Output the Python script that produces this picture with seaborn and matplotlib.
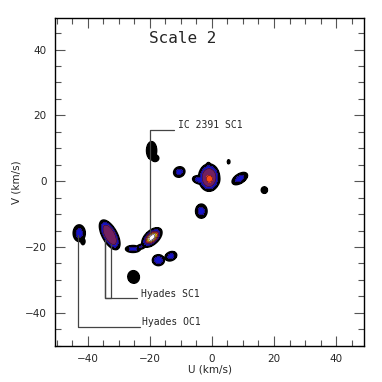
import numpy as np
import matplotlib
matplotlib.use("Agg")
import matplotlib.pyplot as plt
import seaborn as sns

# velocity-space structures found at wavelet scale 2 (U, V in km/s)
blob_u = [-42.7, -41.5, -32.9, -25.4, -22.8, -19.3, -17.2, -13.2, -25.2, -19.4, -18.3,
          -10.5, -0.9, -0.8, -3.9, -1.1, 5.4, 9.0, 16.9, -3.4]
blob_v = [-15.8, -18.3, -16.3, -20.6, -19.9, -17.1, -24.0, -22.8, -29.1, 9.3, 7.0,
          2.8, 1.1, 0.7, 0.4, 3.6, 5.9, 0.8, -2.7, -9.1]
blob_su = [1.6, 0.7, 3.9, 2.0, 1.3, 1.9, 1.53, 1.6, 1.75, 1.5, 1.2,
           1.52, 2.6, 1.9, 1.9, 0.8, 0.5, 2.28, 1.1, 1.52]
blob_sv = [2.1, 1.1, 1.8, 0.85, 0.6, 1.05, 1.3, 1.1, 1.85, 2.55, 1.0,
           1.27, 3.2, 1.9, 1.0, 1.7, 0.75, 1.18, 1.1, 1.77]
blob_angle = [0, 0, -59, 0, 15, 40, 0, 20, 30, 0, 0,
              20, 0, 0, -10, 0, 0, 30, 0, 0]
blob_peak = [2.3, 1.4, 3.9, 2.3, 2.1, 7.2, 2.6, 2.3, 1.7, 1.8, 1.6,
             2.3, 3.9, 4.6, 2.4, 2.4, 1.3, 2.3, 1.4, 2.3]
blob_sharp = [1.5, 1.5, 2, 1.5, 1.5, 1, 1.5, 1.5, 1.5, 1.5, 1.5,
              1.5, 2, 1, 1.5, 1.5, 1.5, 1.5, 1.5, 1.5]

levels = [1, 2, 3, 4, 5, 6, 100]
level_colors = ["black", "#1414c8", "#72205f", "#ff4a10", "#ffe600", "white"]

# group labels and their leader lines
label_text = ["IC 2391 SC1", "Hyades SC1", "Hyades OC1"]
label_u = [-10.9, -22.9, -22.6]
label_v = [17.1, -34.2, -42.9]
leader_u = [[-12.3, -19.8, -19.8], [-24.0, -34.5, -34.5, -34.5, -32.6, -32.6],
            [-23.2, -43.1, -43.1]]
leader_v = [[15.7, 15.7, -15.8], [-35.6, -35.6, -18.0, -35.6, -35.6, -19.0],
            [-44.2, -44.2, -16.5]]

sns.set_theme(style="ticks")
plt.rcParams["font.family"] = ["DejaVu Sans"]

fig = plt.figure(figsize=(3.82, 3.82), dpi=100)
ax = fig.add_axes([0.144, 0.095, 0.809, 0.857])

gu, gv = np.meshgrid(np.arange(-50, 50, 0.35), np.arange(-50, 50, 0.35))
field = np.zeros_like(gu)
for u0, v0, su, sv, ang, pk, p in zip(blob_u, blob_v, blob_su, blob_sv,
                                      blob_angle, blob_peak, blob_sharp):
    t = np.deg2rad(ang)
    du, dv = gu - u0, gv - v0
    a = (du * np.cos(t) + dv * np.sin(t)) / su
    b = (-du * np.sin(t) + dv * np.cos(t)) / sv
    field = np.maximum(field, pk * np.exp(-((a**2 + b**2) ** p) / 2))

ax.contourf(gu, gv, field, levels=levels, colors=level_colors)
ax.contour(gu, gv, field, levels=[1], colors="black", linewidths=1.3)
ax.contour(gu, gv, field, levels=levels[1:6], colors="#2a0a3a", linewidths=0.4)

for lu, lv in zip(leader_u, leader_v):
    ax.plot(lu, lv, color="#444444", lw=0.9)
for txt, lu, lv in zip(label_text, label_u, label_v):
    ax.text(lu, lv, txt, fontsize=7, family="DejaVu Sans Mono", va="center", ha="left")

ax.text(-9.4, 43.4, "Scale 2", fontsize=11.5, family="DejaVu Sans Mono",
        ha="center", va="center")

ax.set_xlim(-50.5, 49)
ax.set_ylim(-50, 49.5)
ax.set_xticks([-40, -20, 0, 20, 40])
ax.set_yticks([-40, -20, 0, 20, 40])
ax.set_xticks(np.arange(-50, 50, 5), minor=True)
ax.set_yticks(np.arange(-50, 50, 5), minor=True)
ax.tick_params(which="both", direction="in", top=True, right=True, color="#555555",
               labelsize=7.5, pad=6)
ax.tick_params(which="major", length=7, width=0.8)
ax.tick_params(which="minor", length=4, width=0.8)
for s in ax.spines.values():
    s.set_color("black")
    s.set_linewidth(1.0)

ax.set_xlabel("U (km/s)", fontsize=7.5, labelpad=0)
ax.set_ylabel("V (km/s)", fontsize=7.5)
ax.yaxis.set_label_coords(-0.108, 0.5)

fig.savefig("out.png", dpi=100)
